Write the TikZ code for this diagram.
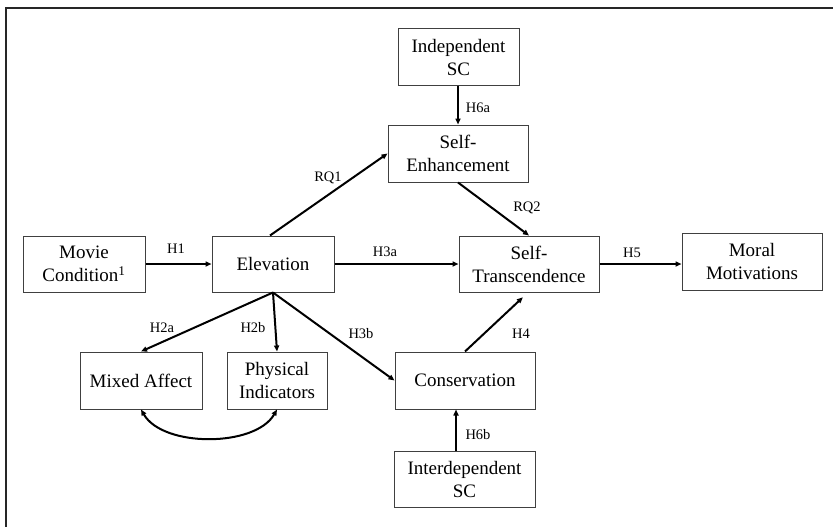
\documentclass[tikz,border=0pt]{standalone}
\usepackage{fontspec}
\setmainfont{Liberation Serif}
\usetikzlibrary{arrows.meta,calc}
\begin{document}
\begin{tikzpicture}[x=1pt,y=-1pt,
  box/.style={draw=black!75,line width=1pt,inner sep=0pt,align=center,font=\fontsize{19}{23}\selectfont},
  lbl/.style={inner sep=0pt,font=\fontsize{14.5}{16}\selectfont},
  arr/.style={line width=2pt,-{Triangle[length=6pt,width=5pt]}},
  frame/.style={line width=1.3pt,black!85}]
\useasboundingbox (0,0) rectangle (833,527);
\coordinate (tl) at (6,8);
\coordinate (tr) at (833,8);
\coordinate (bl) at (6,527);
\draw[frame] (tr) -- (tl) -- (bl);
% boxes
\node[box,minimum width=121pt,minimum height=57pt] (IS) at (458.5,57.5) {Independent\\SC};
\node[box,minimum width=140pt,minimum height=57pt] (SE) at (458,153.5) {Self-\\Enhancement};
\node[box,minimum width=122pt,minimum height=56pt] (MC) at (84,264) {Movie\\Condition\textsuperscript{1}};
\node[box,minimum width=122pt,minimum height=56pt] (EL) at (273,264) {Elevation};
\node[box,minimum width=140pt,minimum height=56pt] (ST) at (529,264) {Self-\\Transcendence};
\node[box,minimum width=140pt,minimum height=57pt] (MM) at (752,261.5) {Moral\\Motivations};
\node[box,minimum width=122pt,minimum height=57pt] (MA) at (141,380.5) {Mixed Affect};
\node[box,minimum width=100pt,minimum height=57pt] (PI) at (277,380.5) {Physical\\Indicators};
\node[box,minimum width=140pt,minimum height=57pt] (CO) at (465,380.5) {Conservation};
\node[box,minimum width=141pt,minimum height=56pt] (IN) at (464.5,479) {Interdependent\\SC};
% connectors
\draw[arr] (MC.east) -- (EL.west);
\draw[arr] (EL.east) -- (ST.west);
\draw[arr] (ST.east) -- (ST.east -| MM.west);
\draw[arr] ($(EL.north)+(-3,0)$) -- (SE.west);
\draw[arr] ($(IS.south)+(-0.5,0)$) -- ($(IS.south |- SE.north)+(-0.5,0)$);
\draw[arr] (SE.south) -- (ST.north);
\draw[arr] (EL.south) -- (MA.north);
\draw[arr] (EL.south) -- (PI.north);
\draw[arr] (EL.south) -- (CO.west);
\draw[arr,shorten >=7pt] (CO.north) -- ($(ST.south)+(-1,0)$);
\draw[arr] ($(IN.north)+(-8.5,0)$) -- ($(CO.south)+(-9,0)$);
\draw[line width=2pt,{Triangle[length=6pt,width=5pt]}-{Triangle[length=6pt,width=5pt]}]
  (MA.south) .. controls +(22,38) and +(-22,38) .. (PI.south);
% labels
\node[lbl] (l1) at (176,249) {H1};
\node[lbl] (l3a) at (385,252) {H3a};
\node[lbl] (l5) at (632,253) {H5};
\node[lbl] (lq1) at (328,177.5) {RQ1};
\node[lbl] (l6a) at (478,108) {H6a};
\node[lbl] (lq2) at (527,208) {RQ2};
\node[lbl] (l2a) at (162,328) {H2a};
\node[lbl] (l2b) at (253,328) {H2b};
\node[lbl] (l3b) at (361,334) {H3b};
\node[lbl] (l4) at (521,334) {H4};
\node[lbl] (l6b) at (478,435) {H6b};
\end{tikzpicture}
\end{document}
